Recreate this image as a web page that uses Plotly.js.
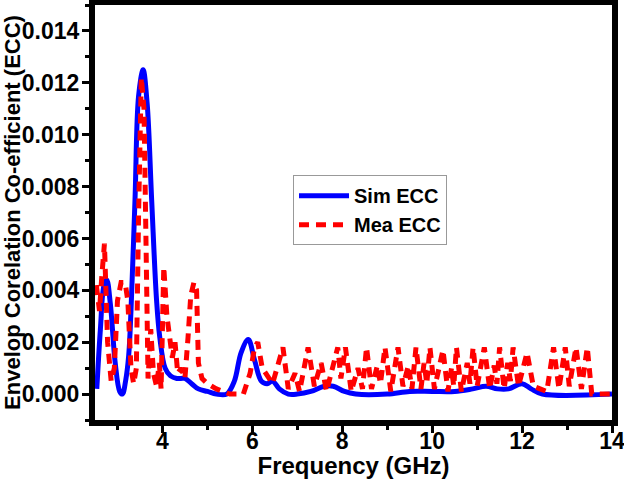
<!DOCTYPE html>
<html>
<head>
<meta charset="utf-8">
<script src="https://cdn.plot.ly/plotly-3.0.1.min.js"></script>
<style>html,body{margin:0;padding:0;background:#fff;}#chart{width:624px;height:479px;}</style>
</head>
<body>
<div id="chart"></div>
<script>
// Sim ECC (blue, solid)
const simFreq = [2.54, 2.62, 2.70, 2.76, 2.84, 2.95, 3.05, 3.11, 3.18, 3.25, 3.30, 3.39, 3.47, 3.57, 3.66, 3.76, 3.87, 3.94, 4.06, 4.18, 4.32, 4.50, 4.65, 4.80, 5.00, 5.20, 5.43, 5.60, 5.75, 5.91, 6.05, 6.20, 6.33, 6.45, 6.60, 6.80, 7.00, 7.30, 7.60, 7.80, 8.05, 8.30, 9.00, 9.50, 10.00, 10.50, 10.90, 11.20, 11.45, 11.70, 12.00, 12.20, 12.45, 14.00];
const simECC  = [0.0002, 0.0025, 0.0042, 0.0044, 0.0035, 0.0012, 0.0001, 0.0000, 0.0005, 0.0015, 0.0032, 0.0075, 0.0115, 0.0125, 0.0112, 0.0075, 0.0036, 0.0022, 0.0010, 0.0007, 0.0006, 0.0006, 0.0004, 0.0002, 0.0001, 0.0000, 0.0000, 0.0005, 0.0016, 0.0021, 0.0013, 0.0005, 0.0004, 0.0005, 0.0002, 0.0000, 0.0000, 0.0001, 0.0003, 0.0003, 0.0001, 0.0000, 0.0000, 0.0001, 0.0001, 0.0001, 0.0002, 0.0003, 0.0002, 0.0002, 0.0004, 0.0002, 0.0000, 0.0000];

// Mea ECC (red, dashed)
const meaFreq = [2.53, 2.60, 2.65, 2.71, 2.78, 2.86, 2.93, 3.00, 3.08, 3.17, 3.23, 3.30, 3.36, 3.42, 3.47, 3.53, 3.59, 3.64, 3.68, 3.74, 3.80, 3.87, 3.93, 3.97, 4.03, 4.10, 4.15, 4.22, 4.28, 4.34, 4.42, 4.50, 4.57, 4.63, 4.70, 4.76, 4.80, 4.88, 5.00, 5.20, 5.50, 5.80, 5.95, 6.05, 6.12, 6.22, 6.30,
  6.45, 6.68, 6.80, 6.95, 7.05, 7.24, 7.38, 7.53, 7.65, 7.90, 7.97, 8.07, 8.20, 8.35, 8.45, 8.54, 8.65, 8.78, 8.85, 8.95, 9.08, 9.24, 9.35, 9.47, 9.55, 9.64, 9.75, 9.82, 9.88, 9.95, 10.05, 10.24, 10.35, 10.43, 10.48, 10.54, 10.65, 10.78, 10.84, 10.91, 11.00, 11.16, 11.28, 11.38, 11.44, 11.50, 11.60, 11.68, 11.74, 11.80, 11.92, 12.11, 12.25, 12.40, 12.55, 12.70, 12.82, 12.96, 13.05, 13.20, 13.32, 13.45, 13.55, 14.00];
const meaECC  = [0.0042, 0.0032, 0.0045, 0.0058, 0.0020, 0.0005, 0.0010, 0.0036, 0.0043, 0.0043, 0.0036, 0.0010, 0.0004, 0.0010, 0.0070, 0.0122, 0.0110, 0.0040, 0.0006, 0.0025, 0.0008, 0.0003, 0.0012, 0.0002, 0.0049, 0.0030, 0.0022, 0.0014, 0.0020, 0.0008, 0.0010, 0.0006, 0.0022, 0.0038, 0.0043, 0.0040, 0.0012, 0.0006, 0.0004, 0.0002, 0.0000, 0.0000, 0.0008, 0.0018, 0.0020, 0.0010, 0.0008,
  0.0004, 0.0018, 0.0002, 0.0008, 0.0001, 0.0018, 0.0003, 0.0012, 0.0001, 0.0018, 0.0006, 0.0018, 0.0001, 0.0010, 0.0002, 0.0018, 0.0002, 0.0011, 0.0004, 0.0018, 0.0001, 0.0018, 0.0003, 0.0011, 0.0002, 0.0018, 0.0002, 0.0012, 0.0004, 0.0018, 0.0002, 0.0017, 0.0001, 0.0010, 0.0003, 0.0018, 0.0001, 0.0012, 0.0004, 0.0018, 0.0003, 0.0018, 0.0002, 0.0011, 0.0004, 0.0018, 0.0002, 0.0012, 0.0005, 0.0018, 0.0003, 0.0016, 0.0003, 0.0002, 0.0001, 0.0018, 0.0002, 0.0018, 0.0003, 0.0018, 0.0002, 0.0018, 0.0000, 0.0000];

const xTickVals = [4, 6, 8, 10, 12, 14];
const xTickText = ['4', '6', '8', '10', '12', '14'];
const yTickVals = [0, 0.002, 0.004, 0.006, 0.008, 0.010, 0.012, 0.014];
const yTickText = ['0.000', '0.002', '0.004', '0.006', '0.008', '0.010', '0.012', '0.014'];

const FONT = 'Arial, "Liberation Sans", sans-serif';

const traces = [
  {x: simFreq, y: simECC, name: 'Sim ECC', type: 'scatter', mode: 'lines',
   line: {color: '#0000ff', width: 5, shape: 'spline', smoothing: 1}},
  {x: meaFreq, y: meaECC, name: 'Mea ECC', type: 'scatter', mode: 'lines',
   line: {color: '#ff0000', width: 5, dash: '10px,7px'}}
];

const axisCommon = {
  showline: true, linecolor: '#000', linewidth: 6, mirror: true,
  showgrid: false, zeroline: false,
  ticks: 'outside', ticklen: 7, tickwidth: 3, tickcolor: '#000',
  ticklabeloverflow: 'allow',
  tickfont: {family: FONT, size: 23, color: '#000', weight: 'bold'}
};

const layout = {
  width: 624, height: 479,
  margin: {l: 95, r: 12, t: 5, b: 59},
  paper_bgcolor: '#fff', plot_bgcolor: '#fff',
  showlegend: true,
  xaxis: Object.assign({}, axisCommon, {
    range: [2.5, 14], tickmode: 'array', tickvals: xTickVals, ticktext: xTickText,
    ticklabelstandoff: -12,
    minor: {dtick: 1, tick0: 0, ticks: 'outside', ticklen: 4, tickwidth: 3, tickcolor: '#000'},
    title: {text: 'Frequency (GHz)', font: {family: FONT, size: 24, color: '#000', weight: 'bold'}, standoff: 5}
  }),
  yaxis: Object.assign({}, axisCommon, {
    range: [-0.001, 0.015], tickmode: 'array', tickvals: yTickVals, ticktext: yTickText,
    ticklabelstandoff: -2,
    minor: {dtick: 0.001, tick0: 0, ticks: 'outside', ticklen: 4, tickwidth: 3, tickcolor: '#000'},
    title: {text: 'Envelop Corelation Co-efficient (ECC)', font: {family: FONT, size: 22, color: '#000', weight: 'bold'}, standoff: 1}
  }),
  legend: {
    x: 0.383, y: 0.59, xanchor: 'left', yanchor: 'top',
    bgcolor: '#fff', bordercolor: '#999', borderwidth: 1,
    font: {family: FONT, size: 20, color: '#000', weight: 'bold'},
    itemwidth: 50, tracegroupgap: 0
  }
};

Plotly.newPlot('chart', traces, layout, {displayModeBar: false, staticPlot: true});
</script>
</body>
</html>
